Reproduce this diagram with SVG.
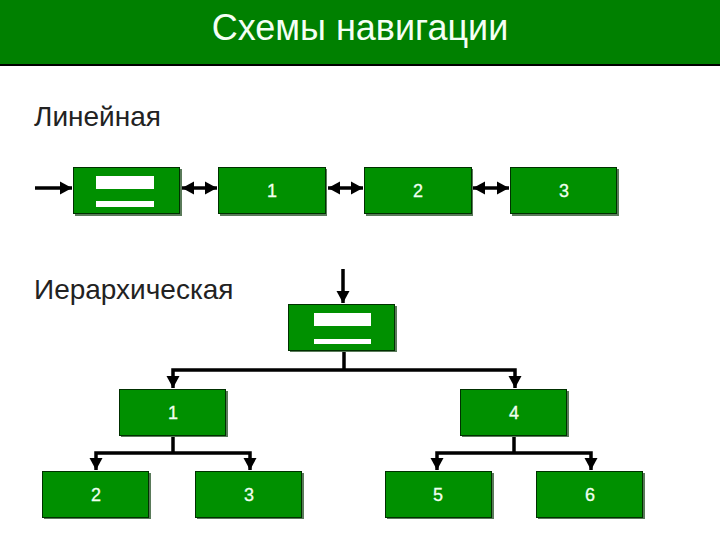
<svg xmlns="http://www.w3.org/2000/svg" width="720" height="540" viewBox="0 0 720 540">
<style>
text{font-family:"Liberation Sans",Arial,sans-serif}
.box{fill:#009000;stroke:#003000;stroke-width:1}
.sh{fill:#5a7a5a}
.num{fill:#f0fff0;font-size:18px;text-anchor:middle;stroke:#f0fff0;stroke-width:.3}
.lbl{fill:#222;font-size:28px}
.c{fill:none;stroke:#000;stroke-width:3.500}
.bar{fill:#fff}
</style>
<defs>
<marker id="a" markerUnits="userSpaceOnUse" markerWidth="14" markerHeight="16" refX="12" refY="8" orient="auto-start-reverse"><path d="M0 1.500 L12 8 L0 14.500Z" fill="#000"/></marker>
</defs>
<rect width="720" height="540" fill="#fff"/>
<g id="header"><rect width="720" height="64" fill="#008000"/><rect y="64" width="720" height="2" fill="#000"/><text x="360" y="40" font-size="36" fill="#f4fff4" text-anchor="middle">Схемы навигации</text></g>
<text id="t-linear" class="lbl" x="34" y="126">Линейная</text>
<text id="t-hier" class="lbl" x="34" y="299">Иерархическая</text>
<g id="connectors">
<path class="c" d="M35 188H72" marker-end="url(#a)"/>
<path class="c" d="M182 188H217" marker-start="url(#a)" marker-end="url(#a)"/>
<path class="c" d="M328 188H363" marker-start="url(#a)" marker-end="url(#a)"/>
<path class="c" d="M473 188H509" marker-start="url(#a)" marker-end="url(#a)"/>
<path class="c" d="M343 269V303" marker-end="url(#a)"/>
<path class="c" d="M344 352V370"/>
<path class="c" d="M173 388V370H515V388" marker-start="url(#a)" marker-end="url(#a)"/>
<path class="c" d="M173 437V452"/>
<path class="c" d="M96 470V453H250V470" marker-start="url(#a)" marker-end="url(#a)"/>
<path class="c" d="M514 437V452"/>
<path class="c" d="M437 470V453H591V470" marker-start="url(#a)" marker-end="url(#a)"/>
</g>
<g id="n-home"><rect class="sh" x="75" y="169" width="107" height="47"/><rect class="box" x="73.500" y="167.500" width="106" height="46"/><rect class="bar" x="96" y="176" width="58" height="13"/><rect class="bar" x="96" y="201" width="58" height="6"/></g>
<g id="n-1"><rect class="sh" x="220" y="169" width="107" height="47"/><rect class="box" x="218.500" y="167.500" width="107" height="46"/><text class="num" x="272" y="197">1</text></g>
<g id="n-2"><rect class="sh" x="366" y="169" width="107" height="47"/><rect class="box" x="364.500" y="167.500" width="107" height="46"/><text class="num" x="418" y="197">2</text></g>
<g id="n-3"><rect class="sh" x="512" y="169" width="107" height="47"/><rect class="box" x="510.500" y="167.500" width="106" height="46"/><text class="num" x="564" y="197">3</text></g>
<g id="h-home"><rect class="sh" x="290" y="306" width="107" height="46"/><rect class="box" x="288.500" y="304.500" width="106" height="46"/><rect class="bar" x="314" y="313" width="57" height="13"/><rect class="bar" x="314" y="339" width="57" height="5"/></g>
<g id="h-1"><rect class="sh" x="121" y="391" width="107" height="46"/><rect class="box" x="119.500" y="389.500" width="106" height="46"/><text class="num" x="173" y="419">1</text></g>
<g id="h-4"><rect class="sh" x="462" y="391" width="107" height="46"/><rect class="box" x="460.500" y="389.500" width="106" height="46"/><text class="num" x="514" y="419">4</text></g>
<g id="h-2"><rect class="sh" x="44" y="473" width="107" height="46"/><rect class="box" x="42.500" y="471.500" width="106" height="46"/><text class="num" x="96" y="501">2</text></g>
<g id="h-3"><rect class="sh" x="197" y="473" width="107" height="46"/><rect class="box" x="195.500" y="471.500" width="106" height="46"/><text class="num" x="249" y="501">3</text></g>
<g id="h-5"><rect class="sh" x="387" y="473" width="107" height="46"/><rect class="box" x="385.500" y="471.500" width="106" height="46"/><text class="num" x="438" y="501">5</text></g>
<g id="h-6"><rect class="sh" x="538" y="473" width="107" height="46"/><rect class="box" x="536.500" y="471.500" width="106" height="46"/><text class="num" x="590" y="501">6</text></g>
</svg>
